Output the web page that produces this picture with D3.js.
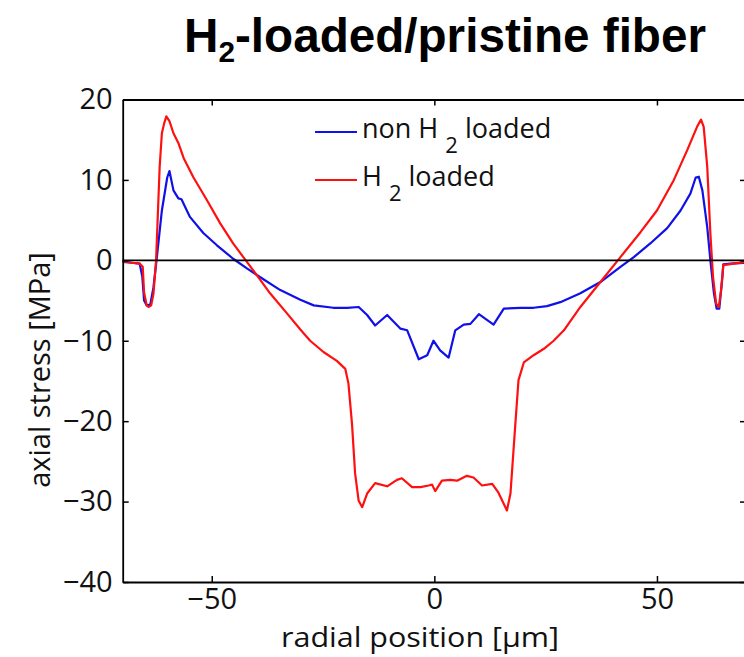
<!DOCTYPE html>
<html><head><meta charset="utf-8">
<script src="https://cdn.jsdelivr.net/npm/d3@7"></script>
<style>body{margin:0;background:#fff}svg{display:block}</style>
</head><body>
<svg id="chart" width="744" height="657"></svg>
<script>
// ---- data ----
const xTicks = [-50, 0, 50];
const yTicks = [-40, -30, -20, -10, 0, 10, 20];
const xDomain = [-70, 70];
const yDomain = [-40, 20];

// non H2 loaded (blue)
const posNon = [-70, -68, -66.2, -65.6, -65.2, -64.6, -63.8, -63.1, -62.4, -61.2, -60.0, -59.5, -58.6, -57.5, -56.8, -54.9, -51.9, -48.9, -45.2, -42.1, -39.1, -34.6, -30.1, -27.1, -22.7, -19.6, -17.0, -15.1, -13.3, -10.6, -7.6, -6.1, -3.5, -1.6, -0.2, 1.3, 3.2, 4.7, 6.6, 8.1, 10.0, 13.3, 15.6, 19.3, 22.3, 25.3, 28.3, 32.8, 37.3, 41.8, 44.8, 48.5, 52.3, 55.3, 57.5, 58.7, 59.4, 60.2, 61.3, 62.0, 62.8, 63.4, 64.0, 64.7, 64.9, 66.5, 69.7];
const stressNon = [-0.2, -0.3, -0.4, -2.0, -5.0, -5.6, -5.5, -3.4, 0, 6.2, 10.3, 11.1, 8.7, 7.7, 7.6, 5.4, 3.4, 1.9, 0.2, -1.0, -2.1, -3.7, -4.9, -5.6, -5.9, -5.9, -5.8, -6.8, -8.1, -6.8, -8.5, -8.7, -12.3, -11.8, -10.0, -11.2, -12.1, -8.7, -8.0, -7.9, -6.7, -8.0, -6.0, -5.9, -5.9, -5.7, -5.2, -4.1, -2.7, -0.8, 0.4, 2.1, 4.0, 6.2, 8.3, 10.3, 10.4, 8.7, 4.1, 0, -4.1, -6.0, -6.0, -2.1, -0.5, -0.4, -0.3];

// H2 loaded (red)
const posH2 = [-70, -68, -66.2, -65.5, -65.2, -64.6, -64.2, -63.6, -63.1, -62.5, -61.7, -61.2, -60.7, -60.2, -59.5, -58.6, -57.5, -56.3, -54.1, -51.1, -48.1, -45.2, -42.1, -39.8, -36.9, -33.1, -30.1, -27.9, -24.9, -21.9, -20.0, -19.3, -18.5, -17.8, -17.0, -16.2, -15.1, -13.3, -10.6, -8.4, -7.3, -5.0, -3.1, -1.3, -0.5, 0.2, 1.7, 3.6, 5.1, 7.3, 8.8, 10.7, 13.0, 14.4, 16.3, 17.1, 18.2, 18.9, 20.1, 22.3, 24.6, 26.8, 29.1, 32.8, 37.3, 41.8, 46.3, 50.0, 53.8, 56.8, 59.0, 59.9, 60.5, 61.3, 62.0, 62.6, 63.3, 63.9, 64.4, 64.9, 67.2, 69.7];
const stressH2 = [-0.1, -0.3, -0.4, -0.8, -4.0, -5.6, -5.8, -5.6, -4.2, 0, 11.6, 15.8, 17.0, 17.9, 17.3, 15.8, 14.6, 12.7, 10.3, 7.5, 4.6, 2.1, -0.2, -1.9, -4.1, -6.6, -8.6, -10.0, -11.4, -12.5, -13.5, -15.3, -20.3, -26.5, -29.9, -30.7, -29.0, -27.7, -28.1, -27.3, -27.1, -28.2, -28.2, -28.0, -27.9, -28.7, -27.4, -27.3, -27.4, -26.8, -27.0, -28.0, -27.8, -28.9, -31.1, -29.0, -20.3, -14.9, -12.7, -11.8, -11.0, -10.0, -8.7, -5.8, -2.7, 0.4, 3.5, 6.2, 10.0, 13.7, 16.6, 17.5, 16.6, 11.6, 3.3, -2.1, -5.4, -5.8, -3.7, -0.6, -0.4, -0.2];

const seriesColors = ["#1010e8", "#ff1010"];

// ---- drawing ----
const svg = d3.select("#chart");
const L = 122.7, R = 746, T = 99.5, B = 582;
const x = d3.scaleLinear().domain(xDomain).range([L, R]);
const y = d3.scaleLinear().domain(yDomain).range([B, T]);
const font = "'Open Sans', sans-serif";

const line = d3.line().x(d => x(d[0])).y(d => y(d[1]));
const nonData = d3.zip(posNon, stressNon);
const h2Data = d3.zip(posH2, stressH2);

svg.append("path").datum(nonData).attr("d", line)
  .attr("fill", "none").attr("stroke", seriesColors[0]).attr("stroke-width", 2.2).attr("stroke-linejoin", "round");
svg.append("path").datum(h2Data).attr("d", line)
  .attr("fill", "none").attr("stroke", seriesColors[1]).attr("stroke-width", 2.2).attr("stroke-linejoin", "round");

// zero line
svg.append("line").attr("x1", x(xDomain[0])).attr("x2", x(xDomain[1]))
  .attr("y1", y(0)).attr("y2", y(0)).attr("stroke", "#000").attr("stroke-width", 1.6);

// axes
const tickLen = 6;
const fmt = d => d < 0 ? "\u2212" + Math.abs(d) : d;
const gB = svg.append("g").attr("transform", `translate(0,${B})`)
  .call(d3.axisBottom(x).tickValues(xTicks).tickSizeInner(-tickLen).tickSizeOuter(0).tickPadding(6).tickFormat(fmt));
const gT = svg.append("g").attr("transform", `translate(0,${T})`)
  .call(d3.axisTop(x).tickValues(xTicks).tickSizeInner(-tickLen).tickSizeOuter(0).tickFormat(""));
const gL = svg.append("g").attr("transform", `translate(${L},0)`)
  .call(d3.axisLeft(y).tickValues(yTicks).tickSizeInner(-tickLen).tickSizeOuter(0).tickPadding(10).tickFormat(fmt));
const gR = svg.append("g").attr("transform", `translate(${R},0)`)
  .call(d3.axisRight(y).tickValues(yTicks).tickSizeInner(-tickLen).tickSizeOuter(0).tickFormat(""));
[gB, gT, gL, gR].forEach(g => {
  g.select(".domain").attr("stroke", "#000").attr("stroke-width", 1.8);
  g.selectAll(".tick line").attr("stroke", "#000").attr("stroke-width", 1.5);
  g.selectAll("text").attr("font-family", font).attr("font-size", 29).attr("fill", "#111");
});

// axis labels
svg.append("text").attr("x", 281).attr("y", 647).attr("text-anchor", "start")
  .attr("font-family", font).attr("font-size", 28).attr("fill", "#111")
  .attr("textLength", 278).attr("lengthAdjust", "spacingAndGlyphs").text("radial position [\u03bcm]");
svg.append("text").attr("transform", "translate(50,370) rotate(-90)").attr("text-anchor", "middle")
  .attr("font-family", font).attr("font-size", 29).attr("fill", "#111").text("axial stress [MPa]");

// title
const title = svg.append("text").attr("x", 184).attr("y", 52)
  .attr("font-family", "'Liberation Sans', Arial, sans-serif").attr("font-weight", "bold")
  .attr("font-size", 48).attr("fill", "#000")
  .attr("textLength", 522).attr("lengthAdjust", "spacingAndGlyphs");
title.append("tspan").text("H");
title.append("tspan").attr("dy", 10).attr("font-size", 30).text("2");
title.append("tspan").attr("dy", -10).text("-loaded/pristine fiber");

// legend
const legend = svg.append("g");
const rows = [
  {y: 132, color: seriesColors[0], parts: ["non H", "2", "loaded"]},
  {y: 180, color: seriesColors[1], parts: ["H", "2", "loaded"]}
];
rows.forEach(r => {
  legend.append("line").attr("x1", 315).attr("x2", 357).attr("y1", r.y).attr("y2", r.y)
    .attr("stroke", r.color).attr("stroke-width", 2.2);
  const t = legend.append("text").attr("x", 362).attr("y", r.y + 6)
    .attr("font-family", font).attr("font-size", 27).attr("fill", "#111");
  t.append("tspan").text(r.parts[0] + " ");
  t.append("tspan").attr("dy", 15).attr("font-size", 22).text(r.parts[1]);
  t.append("tspan").attr("dy", -15).text(" " + r.parts[2]);
});
</script>
</body></html>
